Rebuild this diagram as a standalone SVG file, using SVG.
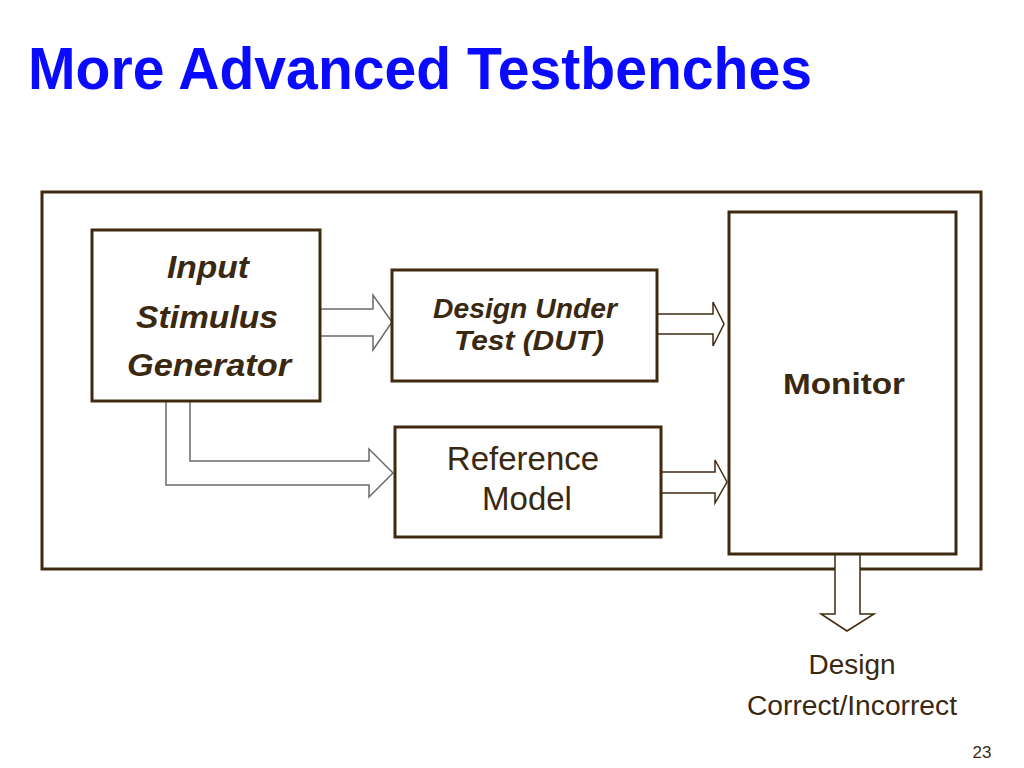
<svg xmlns="http://www.w3.org/2000/svg" width="1024" height="768" viewBox="0 0 1024 768">
<style>
.box{fill:#fff;stroke:#3f2a10;stroke-width:3}
.arr{fill:#fff;stroke:#3f2a10;stroke-width:1.5;stroke-linejoin:miter}
.arrg{fill:#fff;stroke:#6a6a6a;stroke-width:1.5}
.t{font-family:"Liberation Sans",Arial,sans-serif;fill:#3a2810;text-anchor:middle}
.bi{font-weight:bold;font-style:italic}
</style>
<rect width="1024" height="768" fill="#fff"/>
<text x="28" y="89" font-family="Liberation Sans,Arial,sans-serif" font-weight="bold" font-size="59" fill="#0a0aff" textLength="784" lengthAdjust="spacingAndGlyphs">More Advanced Testbenches</text>
<g id="frame"><rect class="box" x="42" y="192" width="939" height="377"/></g>
<g id="connectors">
<polygon class="arrg" points="320,309 373,309 373,295 392,322 373,350 373,336 320,336"/>
<polygon class="arr" points="657,314 713,314 713,302 724,324 713,346 713,334 657,334"/>
<polygon class="arr" points="661,472 715,472 715,460 727,482 715,503 715,493 661,493"/>
<polygon class="arrg" points="190,401 190,461 369,461 369,449 393,473 369,497 369,485 166,485 166,401"/>
<polygon class="arr" points="835,554 860,554 860,614 874,614 847,631 821,614 835,614"/>
</g>
<g id="input-stimulus-generator">
<rect class="box" x="92" y="230" width="228" height="171"/>
<text class="t bi" x="208" y="278" font-size="32" textLength="82" lengthAdjust="spacingAndGlyphs">Input</text>
<text class="t bi" x="207" y="328" font-size="32" textLength="142" lengthAdjust="spacingAndGlyphs">Stimulus</text>
<text class="t bi" x="209" y="376" font-size="32" textLength="164" lengthAdjust="spacingAndGlyphs">Generator</text>
</g>
<g id="dut">
<rect class="box" x="392" y="270" width="265" height="111"/>
<text class="t bi" x="525" y="318" font-size="27" textLength="184" lengthAdjust="spacingAndGlyphs">Design Under</text>
<text class="t bi" x="529" y="350" font-size="27" textLength="150" lengthAdjust="spacingAndGlyphs">Test (DUT)</text>
</g>
<g id="reference-model">
<rect class="box" x="395" y="427" width="266" height="110"/>
<text class="t" x="523" y="470" font-size="33">Reference</text>
<text class="t" x="527" y="510" font-size="33">Model</text>
</g>
<g id="monitor">
<rect class="box" x="729" y="212" width="227" height="342"/>
<text class="t" x="844" y="394" font-size="30" font-weight="bold" textLength="122" lengthAdjust="spacingAndGlyphs">Monitor</text>
</g>
<g id="result">
<text class="t" x="852" y="674" font-size="27" textLength="87" lengthAdjust="spacingAndGlyphs">Design</text>
<text class="t" x="852" y="715" font-size="27" textLength="210" lengthAdjust="spacingAndGlyphs">Correct/Incorrect</text>
</g>
<text class="t" x="982" y="758" font-size="17">23</text>
</svg>
